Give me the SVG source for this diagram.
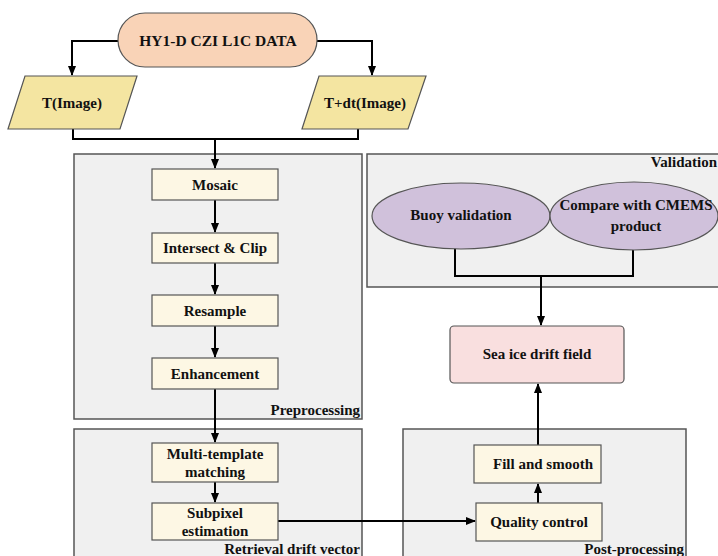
<svg xmlns="http://www.w3.org/2000/svg" width="718" height="556" viewBox="0 0 718 556">
<defs>
<marker id="ah" markerWidth="10" markerHeight="10" refX="9" refY="5" orient="auto" markerUnits="userSpaceOnUse">
<path d="M0,1 L10,5 L0,9 Z" fill="#000"/>
</marker>
<style>
text{font-family:"Liberation Serif","Times New Roman",serif;font-weight:bold;fill:#111;}
.grp{fill:#f0f0f0;stroke:#555;stroke-width:1.5;}
.step{fill:#fdf7e4;stroke:#555;stroke-width:1.2;}
.par{fill:#f4e5a1;stroke:#555;stroke-width:1.2;}
.ell{fill:#d0c1db;stroke:#555;stroke-width:1.2;}
.c{fill:none;stroke:#000;stroke-width:2;}
.t{font-size:15px;text-anchor:middle;}
.lbl{font-size:15px;text-anchor:end;}
</style>
</defs>

<g id="group-preprocessing">
<rect class="grp" x="74" y="154" width="288" height="265"/>
<text class="lbl" x="360" y="415">Preprocessing</text>
</g>
<g id="group-retrieval">
<rect class="grp" x="74" y="429" width="288" height="140"/>
<text class="lbl" x="360" y="554">Retrieval drift vector</text>
</g>
<g id="group-postprocessing">
<rect class="grp" x="403" y="429" width="283" height="140"/>
<text class="lbl" x="684" y="554">Post-processing</text>
</g>
<g id="group-validation">
<rect class="grp" x="367" y="154" width="360" height="133"/>
<text class="lbl" x="717" y="167">Validation</text>
</g>

<g id="connectors">
<path class="c" d="M118,41 H72 V75" marker-end="url(#ah)"/>
<path class="c" d="M317,41 H372 V75" marker-end="url(#ah)"/>
<path class="c" d="M73,129 V139 H358 V129"/>
<path class="c" d="M215,139 V168" marker-end="url(#ah)"/>
<path class="c" d="M215,200 V232" marker-end="url(#ah)"/>
<path class="c" d="M215,263 V294" marker-end="url(#ah)"/>
<path class="c" d="M215,326 V357" marker-end="url(#ah)"/>
<path class="c" d="M215,389 V442" marker-end="url(#ah)"/>
<path class="c" d="M215,482 V502" marker-end="url(#ah)"/>
<path class="c" d="M278,521 H475" marker-end="url(#ah)"/>
<path class="c" d="M538,503 V484" marker-end="url(#ah)"/>
<path class="c" d="M538,445 V384" marker-end="url(#ah)"/>
<path class="c" d="M455,248 V276 H633 V250"/>
<path class="c" d="M541,276 V325" marker-end="url(#ah)"/>
</g>

<g id="node-data">
<rect x="118" y="13" width="199" height="54" rx="27" fill="#f9d3b7" stroke="#555" stroke-width="1.2"/>
<text class="t" x="218" y="46" style="font-size:15.5px">HY1-D CZI L1C DATA</text>
</g>
<g id="node-t-image">
<polygon class="par" points="25,76 137,76 120,129 8,129"/>
<text class="t" x="72" y="108">T(Image)</text>
</g>
<g id="node-tdt-image">
<polygon class="par" points="319,76 426,76 408,129 302,129"/>
<text class="t" x="365" y="108">T+dt(Image)</text>
</g>

<g id="node-mosaic">
<rect class="step" x="152" y="169" width="126" height="31"/>
<text class="t" x="215" y="190">Mosaic</text>
</g>
<g id="node-intersect">
<rect class="step" x="152" y="233" width="126" height="30"/>
<text class="t" x="215" y="253">Intersect &amp; Clip</text>
</g>
<g id="node-resample">
<rect class="step" x="152" y="295" width="126" height="31"/>
<text class="t" x="215" y="316">Resample</text>
</g>
<g id="node-enhancement">
<rect class="step" x="152" y="358" width="126" height="31"/>
<text class="t" x="215" y="379">Enhancement</text>
</g>

<g id="node-multitemplate">
<rect class="step" x="152" y="443" width="126" height="39"/>
<text class="t" x="215" y="459">Multi-template</text>
<text class="t" x="215" y="477">matching</text>
</g>
<g id="node-subpixel">
<rect class="step" x="152" y="503" width="126" height="37"/>
<text class="t" x="215" y="518">Subpixel</text>
<text class="t" x="215" y="536">estimation</text>
</g>

<g id="node-quality">
<rect class="step" x="476" y="503" width="126" height="38"/>
<text class="t" x="539" y="527">Quality control</text>
</g>
<g id="node-fill">
<rect class="step" x="474" y="445" width="127" height="38"/>
<text class="t" x="543" y="469">Fill and smooth</text>
</g>

<g id="node-seaice">
<rect x="450" y="326" width="174" height="57" rx="4" fill="#f9dfdf" stroke="#555" stroke-width="1.2"/>
<text class="t" x="537" y="359">Sea ice drift field</text>
</g>

<g id="node-buoy">
<ellipse class="ell" cx="461" cy="216" rx="89" ry="33"/>
<text class="t" x="461" y="220">Buoy validation</text>
</g>
<g id="node-cmems">
<ellipse class="ell" cx="634" cy="216" rx="84" ry="34"/>
<text class="t" x="636" y="210">Compare with CMEMS</text>
<text class="t" x="636" y="231">product</text>
</g>
</svg>
